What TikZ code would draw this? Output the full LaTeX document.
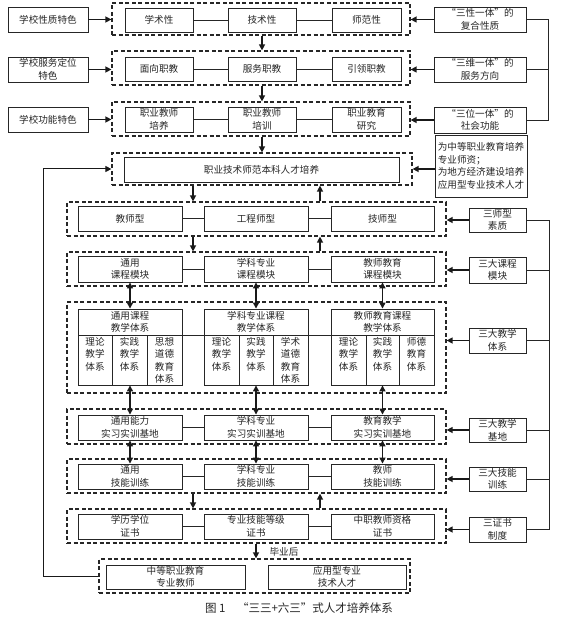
\documentclass[tikz,border=0pt]{standalone}
\usepackage{fontspec}
\setmainfont{Noto Sans CJK SC}
\usetikzlibrary{arrows.meta}
\newcommand\fs{\fontsize{9.6}{12.5}\selectfont}
\newcommand\Bx[6]{\node[bx,minimum width={(#4)-(#2)},minimum height={(#5)-(#3)}] (#1) at ({((#2)+(#4))/2},{((#3)+(#5))/2}) {#6};}
\newcommand\Gp[5]{\node[grp,minimum width={(#4)-(#2)},minimum height={(#5)-(#3)}] (#1) at ({((#2)+(#4))/2},{((#3)+(#5))/2}) {};}
\newcommand\Sb[6]{\Bx{#1}{#2}{#3}{#4}{#5}{}\node[subtxt] (t#1) at ({((#2)+(#4))/2},{(#3)+2}) {#6};}
\tikzset{
 bx/.style={draw=black!85, line width=0.9pt, inner sep=0pt, align=center, font=\fs, text=black!85},
 grp/.style={draw=black!85, line width=1.2pt, dash pattern=on 4pt off 2.5pt, inner sep=0pt},
 subtxt/.style={inner sep=0pt, anchor=north, align=center, font=\fs, text=black!85},
 arr/.style={draw=black!90, line width=1.3pt, -{Triangle[length=6pt,width=6pt]}},
 darr/.style={draw=black!90, line width=1.3pt, {Triangle[length=6pt,width=6pt]}-{Triangle[length=6pt,width=6pt]}},
 ln/.style={draw=black!85, line width=0.8pt},
}
\begin{document}
\begin{tikzpicture}[x=1pt,y=-1pt]
\useasboundingbox[fill=white] (0,0) rectangle (570,620);
% ---- top three rows
\Gp{g1}{112}{3}{410}{35}
\Bx{b1a}{125}{8}{193}{32}{学术性}
\Bx{b1b}{228}{8}{296}{32}{技术性}
\Bx{b1c}{332}{8}{401}{32}{师范性}
\Gp{g2}{112}{51}{410}{85}
\Bx{b2a}{125}{57}{193}{81}{面向职教}
\Bx{b2b}{228}{57}{296}{81}{服务职教}
\Bx{b2c}{332}{57}{401}{81}{引领职教}
\Gp{g3}{112}{102}{410}{136}
\Bx{b3a}{125}{107}{193}{132}{职业教师\\培养}
\Bx{b3b}{228}{107}{296}{132}{职业教师\\培训}
\Bx{b3c}{332}{107}{401}{132}{职业教育\\研究}
\Bx{L1}{8}{7}{88}{32}{学校性质特色}
\Bx{L2}{8}{57}{88}{82}{学校服务定位\\特色}
\Bx{L3}{8}{107}{88}{132}{学校功能特色}
\Bx{R1}{434}{7}{526}{32}{“三性一体”的\\复合性质}
\Bx{R2}{434}{57}{526}{82}{“三维一体”的\\服务方向}
\Bx{R3}{434}{107}{526}{133}{“三位一体”的\\社会功能}
\node[bx,align=left,minimum width=92,minimum height=62] (T) at (481,166)
 {为中等职业教育培养\\专业师资；\\为地方经济建设培养\\应用型专业技术人才};
% ---- row 4
\Gp{g4}{112}{153}{412}{185}
\Bx{b4}{124}{157}{399}{182}{职业技术师范本科人才培养}
% ---- rows 5,6
\Gp{g5}{67}{202}{446}{236}
\Bx{b5a}{78}{206}{182}{231}{教师型}
\Bx{b5b}{204}{206}{308}{231}{工程师型}
\Bx{b5c}{331}{206}{434}{231}{技师型}
\Gp{g6}{67}{252}{446}{286}
\Bx{b6a}{78}{256}{182}{282}{通用\\课程模块}
\Bx{b6b}{204}{256}{308}{282}{学科专业\\课程模块}
\Bx{b6c}{331}{256}{434}{282}{教师教育\\课程模块}
% ---- row 7
\Gp{g7}{67}{302}{446}{393}
\Bx{o1}{78}{309}{182}{385}{}
\Bx{o2}{204}{309}{308}{385}{}
\Bx{o3}{331}{309}{434}{385}{}
\Bx{h1}{78}{309}{182}{335}{通用课程\\教学体系}
\Bx{h2}{204}{309}{308}{335}{学科专业课程\\教学体系}
\Bx{h3}{331}{309}{434}{335}{教师教育课程\\教学体系}
\Sb{s11}{78}{335}{112}{385}{理论\\教学\\体系}
\Sb{s12}{112}{335}{147}{385}{实践\\教学\\体系}
\Sb{s13}{147}{335}{182}{385}{思想\\道德\\教育\\体系}
\Sb{s21}{204}{335}{239}{385}{理论\\教学\\体系}
\Sb{s22}{239}{335}{273}{385}{实践\\教学\\体系}
\Sb{s23}{273}{335}{308}{385}{学术\\道德\\教育\\体系}
\Sb{s31}{331}{335}{366}{385}{理论\\教学\\体系}
\Sb{s32}{366}{335}{399}{385}{实践\\教学\\体系}
\Sb{s33}{399}{335}{434}{385}{师德\\教育\\体系}
% ---- rows 8,9,10
\Gp{g8}{67}{409}{446}{444}
\Bx{b8a}{78}{415}{182}{440}{通用能力\\实习实训基地}
\Bx{b8b}{204}{415}{308}{440}{学科专业\\实习实训基地}
\Bx{b8c}{331}{415}{434}{440}{教育教学\\实习实训基地}
\Gp{g9}{67}{459}{446}{493}
\Bx{b9a}{78}{464}{182}{489}{通用\\技能训练}
\Bx{b9b}{204}{464}{308}{489}{学科专业\\技能训练}
\Bx{b9c}{331}{464}{434}{489}{教师\\技能训练}
\Gp{g10}{67}{509}{446}{543}
\Bx{b10a}{78}{514}{182}{539}{学历学位\\证书}
\Bx{b10b}{204}{514}{308}{539}{专业技能等级\\证书}
\Bx{b10c}{331}{514}{434}{539}{中职教师资格\\证书}
% ---- row 11
\Gp{g11}{99}{559}{410}{593}
\Bx{b11a}{106}{565}{245}{589}{中等职业教育\\专业教师}
\Bx{b11b}{268}{565}{406}{589}{应用型专业\\技术人才}
% ---- right labels lower
\Bx{R5}{469}{208}{526}{232}{三师型\\素质}
\Bx{R6}{469}{257}{526}{283}{三大课程\\模块}
\Bx{R7}{469}{328}{526}{353}{三大教学\\体系}
\Bx{R8}{469}{418}{526}{442}{三大教学\\基地}
\Bx{R9}{469}{467}{526}{491}{三大技能\\训练}
\Bx{R10}{469}{517}{526}{542}{三证书\\制度}
% ---- horizontal links between inner boxes
\foreach \r in {1,2}{\draw[ln] (b\r a.east) -- (b\r b.west) (b\r b.east) -- (b\r c.west);}
\draw[ln] (b3a.east) -- (b3b.west) (b3b.east) -- (b3c.west);
\foreach \r in {5,6,8,9,10}{\draw[ln] (b\r a.east) -- (b\r b.west) (b\r b.east) -- (b\r c.west);}
\draw[ln] (h1.south east) -- (h2.south west) (h2.south east) -- (h3.south west);
% ---- coordinates
\coordinate (xa) at (193,0);
\coordinate (xb) at (320,0);
\coordinate (k1) at (548,0);
\coordinate (k2) at (549,0);
\coordinate (fb) at (43,0);
% ---- arrows top
\foreach \i/\g in {1/g1,2/g2,3/g3}{
  \draw[arr] (L\i.east) -- (L\i.east -| \g.west);
  \draw[arr] (R\i.west) -- (R\i.west -| \g.east);
}
\draw[ln] (R1.east) -- (R1.east -| k1) -- (R3.east -| k1) -- (R3.east);
\draw[ln] (R2.east) -- (R2.east -| k1);
\draw[arr] (g1.south -| b1b) -- (g2.north -| b1b);
\draw[arr] (g2.south -| b2b) -- (g3.north -| b2b);
\draw[arr] (g3.south -| b3b) -- (g4.north -| b3b);
\draw[arr] (T.west |- g4) -- (g4.east);
% ---- arrows middle
\draw[arr] (g4.south -| xa) -- (g5.north -| xa);
\draw[arr] (g5.north -| xb) -- (g4.south -| xb);
\draw[arr] (g5.south -| xa) -- (g6.north -| xa);
\draw[arr] (g6.north -| xb) -- (g5.south -| xb);
\draw[darr] (b6a.south) -- (o1.north);
\draw[darr] (b6b.south) -- (o2.north);
\draw[darr] (b6c.south) -- (o3.north);
\draw[darr] (o1.south) -- (b8a.north);
\draw[darr] (o2.south) -- (b8b.north);
\draw[darr] (o3.south) -- (b8c.north);
\draw[darr] (b8a.south) -- (b9a.north);
\draw[darr] (b8b.south) -- (b9b.north);
\draw[darr] (b8c.south) -- (b9c.north);
\draw[arr] (g9.south -| xa) -- (g10.north -| xa);
\draw[arr] (g10.north -| xb) -- (g9.south -| xb);
\draw[arr] (g10.south -| b10b) -- (g11.north -| b10b);
\node[font=\fs, text=black!85, inner sep=0pt] (after) at (284,552) {毕业后};
% ---- right arrows lower
\foreach \i/\g in {5/g5,6/g6,7/g7,8/g8,9/g9,10/g10}{
  \draw[arr] (R\i.west) -- (R\i.west -| \g.east);
}
\draw[ln] (R5.east) -- (R5.east -| k2) -- (R10.east -| k2) -- (R10.east);
\foreach \i in {6,7,8,9}{\draw[ln] (R\i.east) -- (R\i.east -| k2);}
% ---- feedback
\draw[arr, line width=1pt] (g11.west) -- (g11.west -| fb) -- (g4.west -| fb) -- (g4.west);
% ---- caption
\node[font=\fontsize{11.5}{14}\selectfont, text=black!85, inner sep=0pt] (cap) at (299,608) {图 1\quad “三三+六三”式人才培养体系};
\end{tikzpicture}
\end{document}
